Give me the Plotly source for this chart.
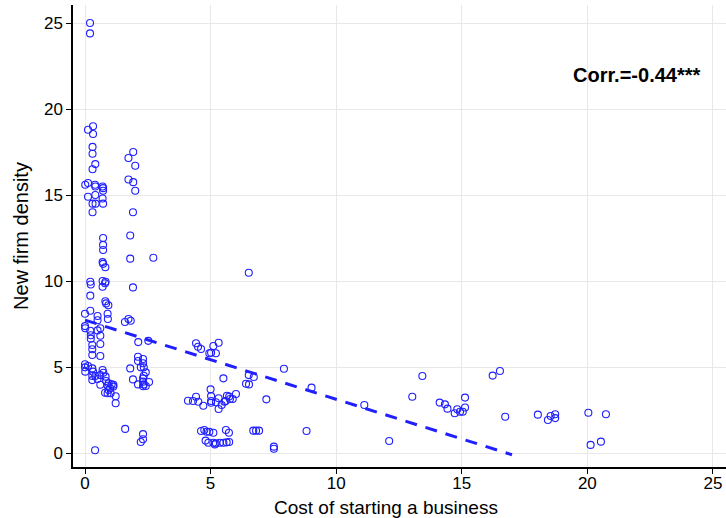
import plotly.graph_objects as go

# Cost of starting a business (x) and new firm density (y)
cost = [
    0.2, 0.2, 0.12, 0.32, 0.32, 0.3, 0.3, 0.41, 0.3,
    0.01, 0.12, 0.4, 0.41, 0.7, 0.72, 0.72,
    0.12, 0.41, 0.7, 0.3, 0.42, 0.72, 0.3,
    0.72, 0.72, 0.72, 0.7, 0.72, 0.81,
    1.73, 1.92, 2.0, 1.73, 1.92, 2.0, 1.91, 1.8, 1.8, 2.72,
    0.21, 0.23, 0.7, 0.82, 0.7, 0.8, 1.91, 0.21,
    0.81, 0.93, 0.9, 0.91, 0.84, 0.0, 0.21,
    0.5, 0.5, 0.61, 0.61, 0.61, 0.61, 0.5,
    0.0, 0.01, 0.21, 0.23, 0.29, 0.29, 0.29, 0.23,
    1.59, 1.73, 1.82, 2.12, 2.52,
    2.11, 2.31, 2.11, 2.31, 2.22, 1.8, 2.34, 2.42, 2.34, 2.31, 2.31, 1.91,
    2.11, 2.34, 2.42, 2.55, 2.31,
    0.0, 0.0, 0.01, 0.12,
    0.29, 0.32, 0.29, 0.41, 0.29, 0.61, 0.61, 0.7, 0.73, 0.82, 0.84, 0.9,
    0.94, 1.02, 1.13, 1.13, 1.22, 1.22, 0.94, 1.06, 0.9, 1.0, 0.5, 0.8,
    1.6, 0.4, 2.31, 2.31, 2.22,
    4.1, 4.3, 4.42, 4.51, 4.71,
    4.42, 4.5, 4.62, 4.95, 5.11, 5.32, 5.21, 5.02,
    5.51, 6.52, 6.52, 6.72, 6.41, 6.53, 7.92, 7.22, 9.02,
    5.0, 5.02, 5.02, 5.02, 5.21, 5.32, 5.32, 5.44, 5.55, 5.65, 5.77, 5.88,
    6.01, 5.6, 5.74,
    4.62, 4.75, 4.84, 4.95, 5.11, 5.61, 5.73, 6.7, 6.81, 6.93, 8.82,
    4.8, 4.91, 5.11, 5.21, 5.37, 5.51, 5.64, 5.74, 5.17,
    7.52, 7.52,
    11.12, 12.11, 13.03, 13.43, 14.12, 14.33, 14.43, 14.72, 14.82, 14.93,
    15.04, 15.13, 15.13, 16.23, 16.52, 16.73,
    18.03, 18.43, 18.54, 18.72, 18.72, 20.04, 20.74, 20.13, 20.54,
]
density = [
    25.0, 24.4, 18.8, 19.0, 18.55, 17.8, 17.4, 16.8, 16.5,
    15.6, 15.7, 15.6, 15.5, 15.5, 15.4, 15.25,
    14.9, 15.0, 14.8, 14.5, 14.5, 14.5, 14.0,
    12.5, 12.1, 11.8, 11.1, 11.0, 10.8,
    17.15, 17.5, 16.7, 15.9, 15.75, 15.25, 14.0, 12.65, 11.3, 11.35,
    9.96, 9.8, 10.0, 9.96, 9.67, 9.87, 9.63, 9.15,
    8.82, 8.59, 8.1, 7.79, 8.7, 8.1, 8.27,
    7.97, 7.72, 7.25, 6.82, 6.34, 5.64, 7.13,
    7.38, 7.25, 7.11, 6.65, 6.28, 6.03, 5.7, 6.85,
    7.62, 7.79, 7.69, 6.45, 6.52,
    5.6, 5.47, 5.35, 5.22, 4.98, 4.92, 4.98, 4.69, 4.49, 4.34, 4.15, 4.28,
    3.99, 3.99, 3.9, 4.13, 3.88,
    5.16, 4.98, 4.73, 5.06,
    4.92, 4.73, 4.48, 4.48, 4.24, 4.53, 3.97, 4.83, 4.67, 4.44, 4.19, 3.91,
    3.66, 3.47, 3.97, 3.86, 3.3, 2.89, 4.05, 3.99, 3.47, 3.76, 4.3, 3.5,
    1.4, 0.16, 1.1, 0.8, 0.64,
    3.04, 3.02, 3.27, 2.98, 2.75,
    6.38, 6.18, 6.05, 5.8, 6.22, 6.41, 5.8, 5.83,
    4.34, 10.48, 4.53, 4.42, 4.03, 3.99, 4.9, 3.12, 3.8,
    3.7, 3.31, 3.02, 2.92, 2.95, 3.18, 2.56, 2.79, 2.98, 3.33, 3.14, 3.14,
    3.43, 3.02, 3.28,
    1.28, 1.34, 1.24, 1.24, 1.18, 1.34, 1.18, 1.3, 1.3, 1.3, 1.28,
    0.72, 0.6, 0.6, 0.56, 0.6, 0.6, 0.62, 0.64, 0.5,
    0.37, 0.25,
    2.79, 0.7, 3.27, 4.48, 2.93, 2.83, 2.58, 2.31, 2.54, 2.4,
    2.4, 2.65, 3.22, 4.5, 4.77, 2.11,
    2.23, 1.92, 2.15, 2.25, 2.03, 2.34, 2.25, 0.47, 0.66,
]

# Linear fit line endpoints
fit_x = [0.0, 17.0]
fit_y = [7.73, -0.1]

tick_vals = [0, 5, 10, 15, 20, 25]
corr_label = "Corr.=-0.44***"
x_title = "Cost of starting a business"
y_title = "New firm density"

BLUE = "#1f1fff"
FONT = "Liberation Sans, Arial, sans-serif"

fig = go.Figure()
fig.add_trace(go.Scatter(
    x=cost, y=density, mode="markers",
    marker=dict(symbol="circle-open", size=7, color=BLUE, line=dict(width=1.1, color=BLUE)),
    showlegend=False, hoverinfo="skip",
))
fig.add_trace(go.Scatter(
    x=fit_x, y=fit_y, mode="lines",
    line=dict(color=BLUE, width=3, dash="12px,9px"),
    showlegend=False, hoverinfo="skip",
))

fig.add_annotation(
    x=24.6, y=22.0, xref="x", yref="y", text="<b>" + corr_label + "</b>",
    showarrow=False, xanchor="right", yanchor="middle",
    font=dict(family=FONT, size=20, color="black"),
)

# x-axis title sits at the bottom edge, below the tick labels
fig.add_annotation(
    x=0.479, y=0, xref="paper", yref="paper", yshift=-53,
    text=x_title, showarrow=False, xanchor="center", yanchor="bottom",
    font=dict(family=FONT, size=19, color="black"),
)

axis_common = dict(
    tickvals=tick_vals, showgrid=True, gridcolor="#e8e8e8", gridwidth=1.2,
    zeroline=False, showline=True, linecolor="black", linewidth=1.5,
    ticks="outside", ticklen=5, tickwidth=1.2, tickcolor="black",
    tickfont=dict(family=FONT, size=17, color="black"),
)

fig.update_layout(
    width=726, height=518,
    margin=dict(l=73, r=0, t=5, b=51),
    paper_bgcolor="white", plot_bgcolor="white",
    xaxis=dict(range=[-0.478, 25.52], ticklabelstandoff=-5, **axis_common),
    yaxis=dict(range=[-0.814, 26.05], title=dict(text=y_title,
               font=dict(family=FONT, size=20, color="black"), standoff=10), **axis_common),
)

fig.write_html("out.html")
